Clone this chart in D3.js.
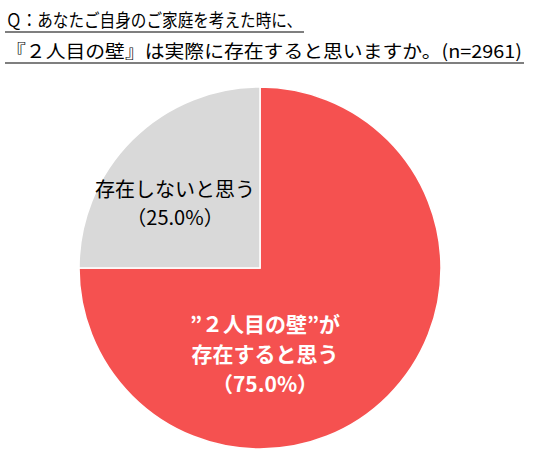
<!DOCTYPE html>
<html><head><meta charset="utf-8">
<script src="https://cdn.jsdelivr.net/npm/d3@7"></script>
<style>body{margin:0;background:#fff}text{font-family:"Noto Sans CJK JP",sans-serif}</style>
</head><body><svg id="c" width="540" height="465"></svg>
<script>
// données
const categories = ["exists", "notExists"];
const values = [75.0, 25.0];
const colors = ["#F55150", "#D9D9D9"];
const titleLines = ["Ｑ：あなたご自身のご家庭を考えた時に、", "『２人目の壁』は実際に存在すると思いますか。(n=2961)"];
const labels = [["”２人目の壁”が", "存在すると思う", "（75.0%）"], ["存在しないと思う", "（25.0%）"]];

const svg = d3.select("#c");

// titre souligné (largeurs ajustées à la référence)
const titleWidths = [296, 516];
titleLines.forEach((t, i) => {
  const y = 27 + i * 31;
  svg.append("text").attr("x", 6).attr("y", y).attr("font-size", 18).attr("fill", "#000")
    .attr("textLength", titleWidths[i]).attr("lengthAdjust", "spacingAndGlyphs").text(t);
  svg.append("line").attr("x1", 5).attr("x2", 8 + titleWidths[i]).attr("y1", y + 5).attr("y2", y + 5)
    .attr("stroke", "#000").attr("stroke-width", 1.2);
});

const cx = 260, cy = 268, r = 181;
const pie = d3.pie().sort(null).value(d => d);
const arc = d3.arc().innerRadius(0).outerRadius(r);
const g = svg.append("g").attr("transform", `translate(${cx},${cy})`);
g.selectAll("path").data(pie(values)).join("path")
  .attr("d", arc).attr("fill", (d, i) => colors[i])
  .attr("stroke", "#fff").attr("stroke-width", 1.5);

// étiquettes
const redLab = g.append("text").attr("text-anchor", "middle").attr("fill", "#fff")
  .attr("font-size", 21).attr("font-weight", "bold");
labels[0].forEach((l, i) => redLab.append("tspan").attr("x", 5).attr("y", 64 + i * 30).text(l));
const grayLab = g.append("text").attr("text-anchor", "middle").attr("fill", "#000").attr("font-size", 20);
labels[1].forEach((l, i) => grayLab.append("tspan").attr("x", -85).attr("y", -71 + i * 28).text(l));
</script></body></html>
